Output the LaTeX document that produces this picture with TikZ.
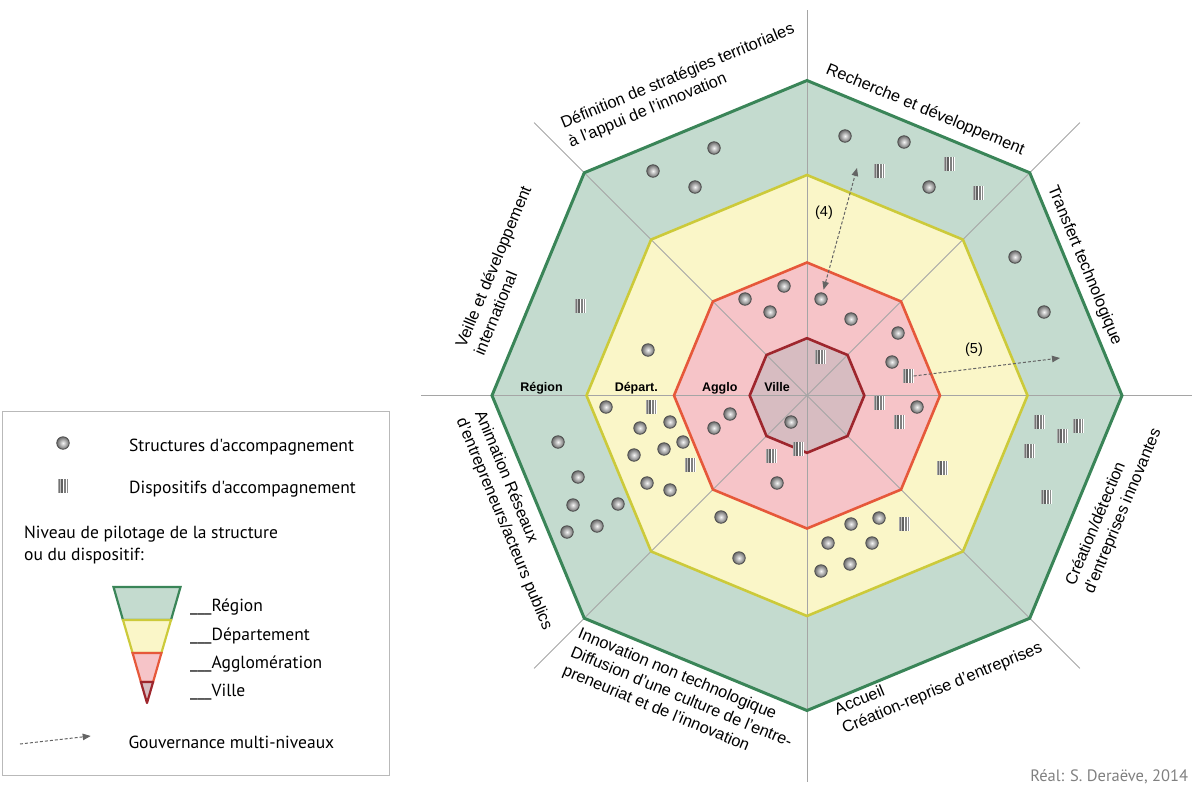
\documentclass[tikz,border=0pt]{standalone}
\usepackage{fontspec}
\setmainfont{Liberation Sans}
\newfontfamily\legfont{PT Sans}
\usetikzlibrary{arrows.meta}
\definecolor{regfill}{RGB}{196,219,207}
\definecolor{regline}{RGB}{58,133,88}
\definecolor{depfill}{RGB}{250,246,200}
\definecolor{depline}{RGB}{204,202,58}
\definecolor{aggfill}{RGB}{246,196,200}
\definecolor{aggline}{RGB}{230,88,58}
\definecolor{vilfill}{RGB}{215,188,193}
\definecolor{villine}{RGB}{158,38,45}
\definecolor{axisgray}{RGB}{165,165,165}
\definecolor{arrgray}{RGB}{100,100,100}
\tikzset{
  struct/.style={circle,inner sep=0pt,minimum size=12.5pt,draw=black!70,line width=0.8pt,inner color=gray!8,outer color=black!58},
  disp/.style={rectangle,inner sep=0pt,minimum width=11pt,minimum height=14pt,fill=white,path picture={
     \foreach \a/\b/\c in {0/1/35,1/2.5/55,2.5/3.5/25,3.5/5/62,6.5/8/50,9.5/10.5/45}{
       \fill[black!\c] ([xshift=\a pt]path picture bounding box.north west) rectangle ([xshift=\b pt]path picture bounding box.south west);}
  }},
  cat/.style={font=\fontsize{16.3}{20}\selectfont,align=left,inner sep=0pt,anchor=north west},
  lvl/.style={font=\bfseries\fontsize{12.5}{14}\selectfont,inner sep=0pt,anchor=base},
  leg/.style={font=\legfont\fontsize{17.5}{20}\selectfont,inner sep=0pt,anchor=base west},
  gov/.style={densely dashed,arrgray,line width=1pt},
  govtip/.tip={Triangle[length=8pt,width=6.5pt]},
}
\begin{document}
\begin{tikzpicture}[x=1pt,y=-1pt]
\useasboundingbox (0,0) rectangle (1192,785);
% ---------- octagons ----------
\begin{scope}[shift={(807,395.5)}]
\foreach \r/\fc in {315/regfill,220.5/depfill,133/aggfill,57.3/vilfill}
  \fill[\fc] (0:\r) \foreach \a in {45,90,...,315}{ -- (\a:\r)} -- cycle;
\foreach \a in {0,45,...,315}
  \draw[axisgray,line width=0.8pt] (0,0) -- (\a:386);
\foreach \r/\lc/\w in {315/regline/3,220.5/depline/2.6,133/aggline/2.6,57.3/villine/2.6}
  \draw[\lc,line width=\w pt,line join=miter] (0:\r) \foreach \a in {45,90,...,315}{ -- (\a:\r)} -- cycle;
\end{scope}
% ---------- level labels ----------
\node[lvl] (lreg) at (541.5,391) {Région};
\node[lvl] (ldep) at (636.3,391) {Départ.};
\node[lvl] (lagg) at (719.7,391) {Agglo};
\node[lvl] (lvil) at (777,391) {Ville};
% ---------- category labels ----------
\node[cat,rotate=22.5] (t1) at (557.9,115.6) {\strut Définition de stratégies territoriales\\à l'appui de l'innovation\strut};
\node[cat,rotate=-22.5] (t2) at (830.4,60.1) {\strut Recherche et développement\strut};
\node[cat,rotate=-67.5] (t3) at (1060.9,182.6) {\strut Transfert technologique\strut};
\node[cat,rotate=67.5] (t4) at (1061.6,581.6) {\strut Création/détection\\d'entreprises innovantes\strut};
\node[cat,rotate=22.5] (t5) at (831.6,702.1) {\strut Accueil\\Création-reprise d'entreprises\strut};
\node[cat,rotate=-22.5] (t6) at (582.4,624.6) {\strut Innovation non technologique\\Diffusion d'une culture de l'entre-\\preneuriat et de l'innovation\strut};
\node[cat,rotate=-67.5] (t7) at (487.9,407.6) {\strut Animation Réseaux\\d'entrepreneurs/acteurs publics\strut};
\node[cat,rotate=67.5] (t8) at (452.1,343.6) {\strut Veille et développement\\international\strut};
% ---------- structures ----------
\foreach \n/\x/\y in {1/653/171,2/714/148,3/695/187,4/845/136,5/904/142,6/929/187,7/1015/257,8/1044/312,
  9/558/442,10/578/477,11/573/505,12/618/504,13/597/526,14/567/532,
  15/648/350,16/606/407,17/670/422,18/640/428,19/683/442,20/664/449,21/634/455,22/647/483,23/670/490,
  24/721/517,25/739/558,26/879/518,27/851/524,28/828/543,29/872/543,30/821/571,31/850/564,
  32/745/299,33/784/286,34/770/312,35/821/299,36/851/319,37/898/333,38/892/362,39/917/407,
  40/730/414,41/714/428,42/777/483,43/791/422}
  \node[struct] (c\n) at (\x,\y) {};
% ---------- dispositifs ----------
\foreach \n/\x/\y in {1/879/171,2/949/164,3/978/193,4/580/306,5/1039/422,6/1078/426,7/1062/436,8/1029/451,9/1046/497,
  10/651/407,11/690/465,12/942/468,13/904/524,14/908/376,15/879/403,16/899/422,17/771/456,18/820/357,19/798/449}
  \node[disp] (d\n) at (\x,\y) {};
% ---------- governance arrows ----------
\coordinate (a4) at (857,168);
\coordinate (a5) at (1060,358);
\draw[gov,govtip-govtip,shorten <=3pt] (c35) -- (a4);
\draw[gov,-govtip] (d14.east) -- (a5);
\node[font=\fontsize{14.5}{16}\selectfont,inner sep=0pt] (n4) at (824,213) {(4)};
\node[font=\fontsize{14.5}{16}\selectfont,inner sep=0pt] (n5) at (974,350) {(5)};
% ---------- legend ----------
\draw[gray!55,line width=1.2pt] (2.7,411.7) rectangle (389.5,775.5);
\node[struct] (ls) at (63,443) {};
\node[leg] (lst) at (129,451) {Structures d'accompagnement};
\node[disp] (ld) at (63,486) {};
\node[leg] (ldt) at (129,493.3) {Dispositifs d'accompagnement};
\node[leg,align=left,anchor=north west,font=\legfont\fontsize{17.5}{21.7}\selectfont] (lniv) at (24,523.1) {\strut Niveau de pilotage de la structure\\ou du dispositif:};
\filldraw[fill=regfill,draw=regline,line width=2.2pt,line join=miter] (113.5,587) -- (180.5,587) -- (171,620) -- (123,620) -- cycle;
\filldraw[fill=depfill,draw=depline,line width=2.2pt,line join=miter] (123,620) -- (171,620) -- (161.4,653) -- (132.6,653) -- cycle;
\filldraw[fill=aggfill,draw=aggline,line width=2.2pt,line join=miter] (132.6,653) -- (161.4,653) -- (153.1,682) -- (140.9,682) -- cycle;
\filldraw[fill=vilfill,draw=villine,line width=2.2pt,line join=round] (140.9,682) -- (153.1,682) -- (147,703) -- cycle;
\node[leg] (lr) at (190,611.7) {\_\_\_Région};
\node[leg] (lde) at (190,640) {\_\_\_Département};
\node[leg] (lag) at (190,668.3) {\_\_\_Agglomération};
\node[leg] (lvi) at (190,696.7) {\_\_\_Ville};
\coordinate (g1) at (20,744);
\coordinate (g2) at (90.7,736);
\draw[gov,-govtip] (g1) -- (g2);
\node[leg] (lgov) at (128.3,748.3) {Gouvernance multi-niveaux};
\node[leg,anchor=base east,text=gray,font=\legfont\fontsize{16.5}{20}\selectfont] (credit) at (1188.3,781.7) {Réal: S. Deraëve, 2014};
\end{tikzpicture}
\end{document}
